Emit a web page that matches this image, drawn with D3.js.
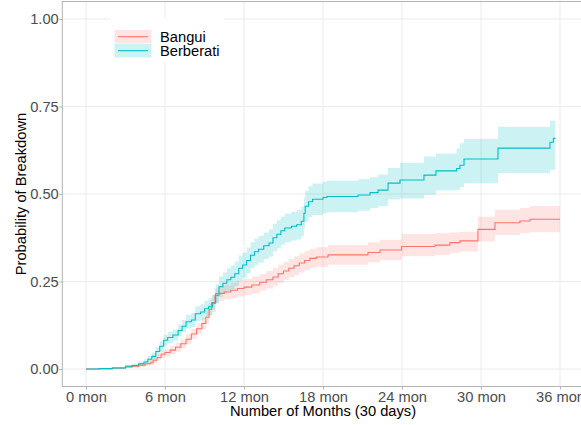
<!DOCTYPE html>
<html>
<head>
<meta charset="utf-8">
<script src="https://cdn.jsdelivr.net/npm/d3@7"></script>
<style>
  html, body { margin: 0; padding: 0; background: #fff; }
  svg { display: block; font-family: "Liberation Sans", Arial, sans-serif; }
</style>
</head>
<body>
<svg id="chart" width="581" height="425"></svg>
<script>
// ---- Data ----
const seriesNames = ["Bangui", "Berberati"];
const seriesColors = ["#F8766D", "#00BFC4"];

const xTicks = [0, 6, 12, 18, 24, 30, 36];
const xTickLabels = ["0 mon", "6 mon", "12 mon", "18 mon", "24 mon", "30 mon", "36 mon"];
const yTicks = [0, 0.25, 0.5, 0.75, 1];
const yTickLabels = ["0.00", "0.25", "0.50", "0.75", "1.00"];

// Bangui: time (months), estimate, lower, upper
const banguiTime  = [0, 1, 2, 3, 3.5, 4, 4.5, 4.9, 5.1, 5.4, 5.7, 6.0, 6.4, 6.8, 7.2, 7.6, 8.0, 8.4, 8.8, 9.1, 9.35, 9.55, 9.8, 10.1, 10.5, 11.0, 11.5, 12.0, 12.6, 13.2, 13.7, 14.2, 14.6, 15.0, 15.4, 15.8, 16.2, 16.6, 17.0, 17.5, 18.38, 21.42, 22.33, 23.98, 26.51, 27.64, 28.40, 29.77, 31.06, 32.96, 33.72, 36.0];
const banguiEst   = [0, .001, .003, .006, .008, .011, .015, .018, .025, .033, .042, .047, .054, .062, .072, .085, .100, .115, .130, .148, .170, .190, .210, .216, .220, .225, .230, .234, .240, .248, .255, .263, .272, .280, .288, .295, .303, .310, .316, .320, .326, .333, .340, .350, .354, .361, .366, .399, .418, .423, .428, .428];
const banguiLower = [0, 0, .001, .003, .004, .006, .009, .011, .017, .024, .032, .036, .042, .049, .059, .071, .085, .099, .113, .130, .152, .171, .190, .195, .199, .203, .207, .211, .216, .224, .230, .238, .246, .254, .262, .268, .276, .283, .289, .292, .298, .304, .311, .322, .326, .332, .336, .364, .383, .388, .391, .391];
const banguiUpper = [0, .002, .005, .009, .012, .016, .021, .025, .033, .042, .052, .058, .066, .075, .085, .099, .115, .131, .147, .166, .188, .209, .230, .237, .241, .247, .253, .257, .264, .272, .280, .288, .298, .306, .314, .322, .330, .337, .343, .348, .354, .362, .369, .386, .388, .390, .392, .435, .455, .460, .466, .466];

// Berberati: time (months), estimate, lower, upper
const berberatiTime  = [0, 1, 2, 3, 3.5, 4, 4.4, 4.7, 5, 5.3, 5.6, 5.9, 6.2, 6.6, 7, 7.3, 7.6, 8, 8.3, 8.7, 9, 9.3, 9.6, 9.85, 10.1, 10.4, 10.7, 11, 11.3, 11.6, 11.9, 12.2, 12.5, 12.8, 13.1, 13.5, 13.9, 14.2, 14.5, 14.8, 15.1, 15.6, 16, 16.35, 16.55, 16.65, 16.9, 17.2, 18, 18.3, 20.66, 21.57, 22.18, 22.94, 23.85, 25.67, 26.58, 28.15, 28.40, 28.71, 31.29, 35.24, 35.50, 35.65];
const berberatiEst   = [0, .001, .003, .008, .010, .015, .020, .028, .036, .050, .065, .082, .090, .097, .110, .122, .135, .140, .158, .163, .172, .178, .188, .215, .235, .245, .255, .262, .272, .288, .297, .310, .325, .335, .342, .352, .360, .375, .385, .395, .403, .408, .412, .422, .445, .465, .478, .485, .490, .493, .497, .504, .511, .531, .540, .554, .566, .573, .582, .600, .631, .648, .659, .659];
const berberatiLower = [0, 0, .001, .004, .005, .009, .012, .019, .025, .038, .051, .067, .074, .081, .093, .104, .116, .120, .137, .141, .149, .154, .163, .188, .206, .214, .222, .228, .237, .252, .261, .273, .288, .297, .304, .314, .321, .336, .345, .355, .362, .367, .370, .380, .402, .421, .434, .440, .445, .448, .452, .460, .466, .484, .487, .498, .510, .512, .520, .531, .559, .569, .569, .569];
const berberatiUpper = [0, .002, .005, .012, .015, .021, .028, .037, .047, .062, .079, .097, .106, .113, .127, .140, .154, .160, .179, .185, .195, .202, .213, .242, .264, .276, .288, .296, .307, .324, .333, .347, .362, .373, .380, .390, .399, .414, .425, .435, .444, .449, .454, .464, .488, .509, .522, .530, .535, .538, .542, .548, .556, .574, .589, .607, .616, .631, .645, .657, .692, .709, .709, .709];

// ---- Build series ----
function build(time, est, lo, hi) {
  return time.map((t, i) => ({ t, est: est[i], lo: lo[i], hi: hi[i] }));
}
const series = [
  build(banguiTime, banguiEst, banguiLower, banguiUpper),
  build(berberatiTime, berberatiEst, berberatiLower, berberatiUpper)
];

// ---- Layout ----
const svg = d3.select("#chart");
const x = d3.scaleLinear().domain([0, 36]).range([86, 560]);
const y = d3.scaleLinear().domain([0, 1]).range([369, 19]);
const px0 = x(-1.8), px1 = x(37.8), py0 = y(1.05), py1 = y(-0.05);
const FONT = "Liberation Sans, Arial, sans-serif";

// grid
const grid = svg.append("g");
grid.selectAll(".gx").data(xTicks).enter().append("line")
  .attr("x1", d => x(d)).attr("x2", d => x(d))
  .attr("y1", py0).attr("y2", py1)
  .attr("stroke", "#ebebeb").attr("stroke-width", 1);
grid.selectAll(".gy").data(yTicks).enter().append("line")
  .attr("x1", px0).attr("x2", px1)
  .attr("y1", d => y(d)).attr("y2", d => y(d))
  .attr("stroke", "#ebebeb").attr("stroke-width", 1);

// bands and lines
const area = d3.area().curve(d3.curveStepAfter)
  .x(d => x(d.t)).y0(d => y(d.lo)).y1(d => y(d.hi));
const line = d3.line().curve(d3.curveStepAfter)
  .x(d => x(d.t)).y(d => y(d.est));

series.forEach((s, i) => {
  svg.append("path").datum(s).attr("d", area)
    .attr("fill", seriesColors[i]).attr("fill-opacity", 0.2).attr("stroke", "none");
});
series.forEach((s, i) => {
  svg.append("path").datum(s).attr("d", line)
    .attr("fill", "none").attr("stroke", seriesColors[i]).attr("stroke-width", 1.1);
});

// panel border
svg.append("rect")
  .attr("x", px0).attr("y", py0)
  .attr("width", px1 - px0).attr("height", py1 - py0)
  .attr("fill", "none").attr("stroke", "#b3b3b3").attr("stroke-width", 1);

// axes
const xAxis = d3.axisBottom(x).tickValues(xTicks)
  .tickFormat((d, i) => xTickLabels[i]).tickSize(3).tickPadding(2);
const gx = svg.append("g").attr("transform", `translate(0,${py1})`).call(xAxis);
gx.select(".domain").remove();
gx.selectAll(".tick line").attr("stroke", "#b3b3b3");
gx.selectAll(".tick text").attr("fill", "#4d4d4d")
  .style("font-size", "14.7px").style("font-family", FONT);

const yAxis = d3.axisLeft(y).tickValues(yTicks)
  .tickFormat((d, i) => yTickLabels[i]).tickSize(3).tickPadding(0.5);
const gy = svg.append("g").attr("transform", `translate(${px0},0)`).call(yAxis);
gy.select(".domain").remove();
gy.selectAll(".tick line").attr("stroke", "#b3b3b3");
gy.selectAll(".tick text").attr("fill", "#4d4d4d")
  .style("font-size", "14.7px").style("font-family", FONT);

// axis titles
svg.append("text")
  .attr("x", (px0 + px1) / 2).attr("y", 415.5)
  .attr("text-anchor", "middle")
  .style("font-size", "14.7px").style("font-family", FONT).attr("fill", "#000")
  .text("Number of Months (30 days)");
svg.append("text")
  .attr("transform", `translate(26,${(py0 + py1) / 2}) rotate(-90)`)
  .attr("text-anchor", "middle")
  .style("font-size", "14.7px").style("font-family", FONT).attr("fill", "#000")
  .text("Probability of Breakdown");

// legend
const leg = svg.append("g");
leg.append("rect").attr("x", 110).attr("y", 18).attr("width", 114).attr("height", 44).attr("fill", "#fff");
seriesNames.forEach((name, i) => {
  const ky = 30 + i * 14;
  leg.append("rect").attr("x", 114.5).attr("y", ky).attr("width", 37).attr("height", 13.5)
    .attr("fill", seriesColors[i]).attr("fill-opacity", 0.2);
  leg.append("line").attr("x1", 118).attr("x2", 148)
    .attr("y1", ky + 6.7).attr("y2", ky + 6.7)
    .attr("stroke", seriesColors[i]).attr("stroke-width", 1.1);
  leg.append("text").attr("x", 160).attr("y", ky + 11.8)
    .style("font-size", "14.7px").style("font-family", FONT).attr("fill", "#000").text(name);
});
</script>
</body>
</html>
